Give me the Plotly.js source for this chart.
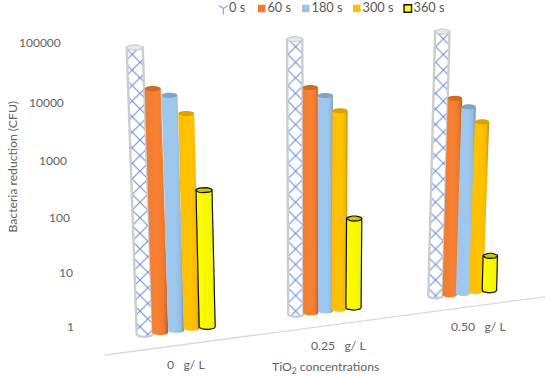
<!DOCTYPE html>
<html><head><meta charset="utf-8">
<script src="https://cdn.plot.ly/plotly-3.0.1.min.js"></script>
<style>html,body{margin:0;padding:0;background:#fff}</style></head>
<body><div id="chart" style="width:550px;height:377px"></div>
<script>
// Data (CFU, on the log axis)
const groups = ['0\u00A0\u00A0\u00A0g/ L', '0.25\u00A0\u00A0\u00A0g/ L', '0.50\u00A0\u00A0\u00A0g/ L'];
const seriesNames = ['0 s', '60 s', '180 s', '300 s', '360 s'];
const values0s   = [90000, 126000, 172000];
const values60s  = [17000, 17800, 11500];
const values180s = [13000, 12850, 8130];
const values300s = [6200, 6900, 4420];
const values360s = [276, 87.5, 19.3];
// Where each bar stands on the slanted floor of the 3-D view (axis value at its foot)
const foot0s   = [0.80, 1.80, 3.81];
const foot60s  = [0.86, 1.91, 3.96];
const foot180s = [0.94, 2.06, 4.18];
const foot300s = [1.02, 2.21, 4.53];
const foot360s = [1.08, 2.37, 4.78];
const yTicks = [1, 10, 100, 1000, 10000, 100000];
const yTickText = ['1', '10', '100', '1000', '10000', '100000'];
// The tick labels lean with the perspective of the original
const yTickRight = [76, 74.7, 72, 69, 66, 63.3];
const yTickShift = [1.9, -0.7, -2.1, -2.2, -1, 2.3];

// Bar centres along the hidden x axis: at the foot and at the top
const xFoot = [[144.7,160.3,176.2,191.7,207.2],[295.8,310.8,325.6,339.2,353.5],[435.5,449.7,463,476,489.4]];
const xTop  = [[134.7,152.7,169.5,186.2,204],[294.7,310.3,325.3,340,354.2],[442.3,455,468.7,482,490.3]];
const halfW = [8, 7.6, 7.2];

const PX = 56.77;                    // pixels per decade
const W = 550, H = 377;
const y0 = 328.76;
const styles = [
  {pattern:true, cap:'#E8E8E8', edge:'#CDCDCD', leg:'#8FA9DC'},
  {stops:[[0,'#EF7C30'],[0.55,'#F98133'],[0.82,'#EE7A2E'],[1,'#B45F22']], cap:'#D06A25', leg:'#F47B2C'},
  {stops:[[0,'#9DC6EC'],[0.6,'#A0C8EE'],[0.85,'#94BBDF'],[1,'#6F92B3']], cap:'#7FA3C6', leg:'#9DC3E6'},
  {stops:[[0,'#FFBE00'],[0.6,'#FFC300'],[0.85,'#F4B800'],[1,'#BC8E00']], cap:'#D9A200', leg:'#FFC000'},
  {stops:[[0,'#FFFF00'],[1,'#F2F200']], cap:'#C9C900', edge:'#111111', leg:'#FFFF00'}
];
const valueSets = [values0s, values60s, values180s, values300s, values360s];
const footSets  = [foot0s, foot60s, foot180s, foot300s, foot360s];

function shift(v, px){ return v * Math.pow(10, -px / PX); } // px downwards, in axis terms
function arc(cx, cy, hw, from, to){
  const xs = [], ys = [];
  for (let i = 0; i <= 14; i++){
    const a = from + (to - from) * i / 14;
    xs.push(cx + hw * Math.cos(a));
    ys.push(shift(cy, 2.6 * Math.sin(a)));
  }
  return [xs, ys];
}
const traces = [];
groups.forEach((g, gi) => {
  seriesNames.forEach((s, si) => {
    const st = styles[si], hw = halfW[gi];
    const top = valueSets[si][gi], foot = footSets[si][gi];
    const b = arc(xFoot[gi][si], foot, hw, 0, Math.PI);
    const xs = b[0].concat([xTop[gi][si]-hw, xTop[gi][si]+hw, xFoot[gi][si]+hw]);
    const ys = b[1].concat([top, top, foot]);
    const body = {x:xs, y:ys, mode: st.edge ? 'lines' : 'none', fill:'toself', showlegend:false, hoverinfo:'skip',
      name: s + ' ' + g, line: st.edge ? {color:st.edge, width: st.pattern ? 2.4 : 1.2} : undefined};
    if (st.pattern){
      body.fillcolor = '#ffffff';
      body.fillpattern = {shape:'x', fgcolor:'#6E93DC', bgcolor:'#ffffff', size:11, solidity:0.2, fillmode:'replace'};
    } else {
      body.fillgradient = {type:'horizontal', colorscale:st.stops};
    }
    traces.push(body);
    const c = arc(xTop[gi][si], top, hw, 0, 2*Math.PI);
    traces.push({x:c[0], y:c[1], mode: st.edge ? 'lines' : 'none', fill:'toself', fillcolor:st.cap, showlegend:false, hoverinfo:'skip',
      line: st.edge ? {color:st.edge, width:1.2} : undefined});
  });
});
// floor line
traces.push({x:[105,545], y:[0.345,3.66], mode:'lines', line:{color:'#D9D9D9', width:1.3}, showlegend:false, hoverinfo:'skip'});
// legend row
const legX = [223.3,261.7,305.8,356.8,407.8];
const legY = shift(Math.pow(10,y0/PX), 8.5);
seriesNames.forEach((s, si) => {
  const st = styles[si];
  traces.push({x:[legX[si]], y:[legY], mode:'markers+text', name:s, text:[s], textposition:'middle right',
    textfont:{family:'Lato', size:12.8, color:'#595959'}, showlegend:false, hoverinfo:'skip', cliponaxis:false,
    marker:{symbol: si===0 ? 'y-down-open' : 'square', size:7.5, color:st.leg,
      line:{color: si===0 ? st.leg : (si===4 ? '#111' : st.leg), width: si===4 ? 1.4 : (si===0 ? 1.2 : 0)}}});
});
const font = {family:'Lato', color:'#636363'};
const lab = (txt, x, yPx, size) => ({text:txt, xref:'x', yref:'paper', x:x, y:1 - yPx / H, showarrow:false, font:{...font, size:size}, xanchor:'center', yanchor:'middle'});
const tickLabels = yTicks.map((t, i) => ({text:yTickText[i], xref:'x', yref:'y', x:yTickRight[i], y:Math.log10(t), yshift:yTickShift[i],
  showarrow:false, xanchor:'right', yanchor:'middle', font:{...font, size:12}}));
const layout = {
  width:W, height:H, margin:{l:0, r:0, t:0, b:0}, paper_bgcolor:'#fff', plot_bgcolor:'#fff', showlegend:false,
  xaxis:{range:[0, W], visible:false, fixedrange:true},
  yaxis:{type:'log', range:[(y0-H)/PX, y0/PX], tickmode:'array', tickvals:yTicks, ticktext:yTickText,
    showticklabels:false, showgrid:false, zeroline:false, showline:false, ticks:''},
  annotations:tickLabels.concat([
    lab(groups[0], 185.7, 364, 12.2),
    lab(groups[1], 338.3, 345.7, 12.2),
    lab(groups[2], 478.7, 326.7, 12.2),
    lab('TiO<sub>2</sub> concentrations', 325.3, 367, 12.2),
    Object.assign(lab('Bacteria reduction (CFU)', 12, 166.5, 12.2), {textangle:-90})
  ])
};
Plotly.newPlot('chart', traces, layout, {displayModeBar:false, staticPlot:true});
</script></body></html>
